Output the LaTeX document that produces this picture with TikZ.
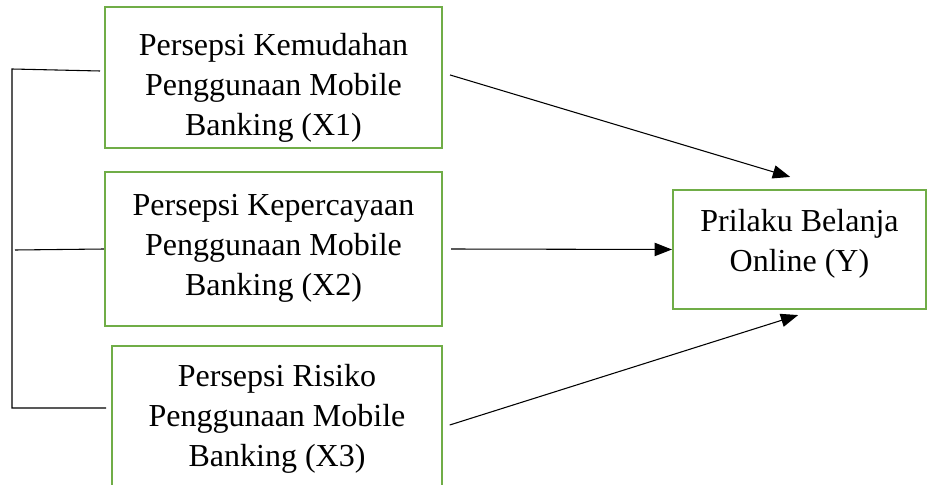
\documentclass[tikz,border=0pt]{standalone}
\usepackage{fontspec}
\setmainfont{Liberation Serif}
\usepackage{xcolor}
\usepackage{tikz}
\usetikzlibrary{calc,arrows.meta,positioning}
\definecolor{boxc}{HTML}{70AD47}
\tikzset{
  ar/.style={-{Triangle[length=13pt,width=10pt]},line width=0.8pt,black},
  ln/.style={line width=0.8pt,black},
  box/.style={draw=boxc,line width=1.6pt,inner sep=0pt},
  txt/.style={align=center,inner sep=0pt,font=\fontsize{24}{30}\selectfont}
}
\begin{document}
\begin{tikzpicture}[x=0.75pt,y=-0.75pt]
\useasboundingbox (0,0) rectangle (929,485);
% variabel bebas
\node[box,minimum width=252.75pt,minimum height=105.75pt] (x1) at (273.5,77.5) {};
\node[txt] (x1t) at ([yshift=-7.5pt]x1.center) {Persepsi Kemudahan\\Penggunaan Mobile\\Banking (X1)};
\node[box,minimum width=252.75pt,minimum height=115.5pt] (x2) at (273.5,249) {};
\node[txt] (x2t) at ([yshift=0.75pt]x2.center) {Persepsi Kepercayaan\\Penggunaan Mobile\\Banking (X2)};
\node[box,minimum width=247.5pt,minimum height=109.5pt] (x3) at (277,419) {};
\node[txt] (x3t) at (x3.center) {Persepsi Risiko\\Penggunaan Mobile\\Banking (X3)};
% variabel terikat
\node[box,minimum width=189.75pt,minimum height=89.25pt] (y) at (799.5,249.5) {};
\node[txt] (yt) at ([yshift=4.5pt]y.center) {Prilaku Belanja\\Online (Y)};
% garis kurung kiri
\coordinate (bt) at (12,69);
\coordinate (bb) at (12,408);
\coordinate (bm) at (15,250);
\draw[ln] (100,71) -- (bt) -- (bb) -- (106,408);
\draw[ln] (bm) -- (x2.west);
% panah
\draw[ar] ([xshift=5.25pt,yshift=1.9pt]x1.east) -- ([xshift=-7pt,yshift=9pt]y.north);
\draw[ar] ([xshift=6pt]x2.east) -- (y.west);
\draw[ar] ([xshift=5pt,yshift=-4.5pt]x3.east) -- ([xshift=-1pt,yshift=-3.75pt]y.south);
\end{tikzpicture}
\end{document}
